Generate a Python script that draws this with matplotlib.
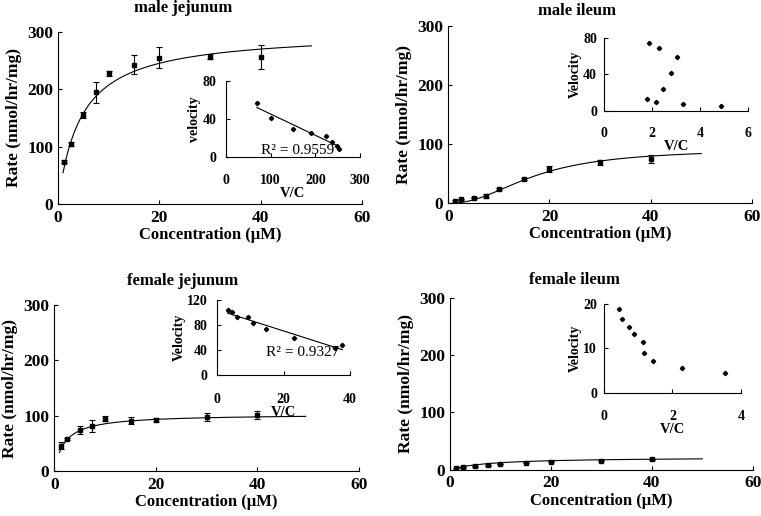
import numpy as np
import matplotlib
matplotlib.use('Agg')
import matplotlib.pyplot as plt

plt.rcParams['font.family'] = ['Liberation Serif', 'DejaVu Serif']
plt.rcParams['font.weight'] = 'bold'

# Concentrations (uM)
conc = [1.25, 2.5, 5, 7.5, 10, 15, 20, 30, 40]

# Rates (nmol/hr/mg) and error bars
mj_rate = [74, 105, 155, 195, 228, 243, 255, 257, 256]
mj_err = [3, 3, 5, 18, 4, 16, 18, 4, 21]
mi_rate = [4, 6.8, 9.6, 12.4, 23.7, 41, 57.5, 69.4, 75]
mi_err = [1, 1, 1, 3, 2, 1, 5, 4, 6]
fj_rate = [46, 58, 74, 81, 95, 91, 92, 98, 102]
fj_err = [6, 2, 7, 11, 4, 6, 4, 7, 7]
fi_rate = [2.9, 4.1, 5.8, 7.6, 9.9, 12.2, 14, 15.7, 18]
fi_err = [0.5, 0.5, 0.5, 0.5, 0.5, 0.5, 0.5, 0.5, 1]

# fitted model parameters (Vmax, Km, hill n)
mj_fit = (300.6, 4.5, 1.0)
mi_fit = (92.0, 17.0, 2.2)
fj_fit = (103.0, 2.03, 1.0)
fi_fit = (22.0, 8.0, 1.0)

# Eadie-Hofstee insets: V/C vs velocity
mj_vc = [69, 100, 151, 190, 224, 238, 249, 254]
mj_vel = [57, 41, 30, 25, 22, 16, 12, 8]
mi_vc = [1.87, 2.30, 3.02, 2.80, 2.44, 1.77, 2.16, 3.30, 4.85]
mi_vel = [74.2, 69.1, 59.3, 41.1, 23.6, 12.7, 10.2, 8.0, 5.5]
fj_vc = [3.1, 4.5, 6.0, 9.3, 10.7, 14.6, 23.0, 35.5, 37.7]
fj_vel = [103, 99.7, 92.3, 92.3, 82.2, 73.1, 58.2, 42.2, 47.5]
fi_vc = [0.45, 0.53, 0.73, 0.87, 1.13, 1.17, 1.42, 2.27, 3.54]
fi_vel = [18.9, 16.5, 14.8, 13.3, 11.4, 8.9, 7.2, 5.7, 4.4]


def hill(x, p):
    vmax, k, n = p
    return vmax * x ** n / (k ** n + x ** n)


def style(ax, xlim, ylim, xticks, yticks, xpad, ypad, size):
    ax.set_xlim(xlim)
    ax.set_ylim(ylim)
    ax.set_xticks(xticks)
    ax.set_yticks(yticks)
    for s in ['top', 'right']:
        ax.spines[s].set_visible(False)
    for s in ['left', 'bottom']:
        ax.spines[s].set_linewidth(0.8)
    ax.tick_params(axis='x', direction='in', length=3, width=0.8, pad=xpad, labelsize=size)
    ax.tick_params(axis='y', direction='in', length=3, width=0.8, pad=ypad, labelsize=size)
    for lab in ax.get_xticklabels() + ax.get_yticklabels():
        lab.set_fontweight('bold')


fig = plt.figure(figsize=(7.61, 5.16), dpi=100)

panels = [
    ([0.0762, 0.6047, 0.3995, 0.3333], mj_rate, mj_err, mj_fit, (1.0, 50)),
    ([0.5890, 0.6060, 0.3990, 0.3436], mi_rate, mi_err, mi_fit, (1.25, 50)),
    ([0.0714, 0.0866, 0.4004, 0.3229], fj_rate, fj_err, fj_fit, (1.0, 49.5)),
    ([0.5913, 0.0897, 0.3978, 0.3328], fi_rate, fi_err, fi_fit, (1.25, 50)),
]
titles = ['male jejunum', 'male ileum', 'female jejunum', 'female ileum']
title_pos = [(183, 8), (577, 11), (183, 281), (574, 280)]

for (rect, rate, err, fit, xr), t, tp in zip(panels, titles, title_pos):
    ax = fig.add_axes(rect)
    xs = np.linspace(xr[0], xr[1], 200)
    ax.plot(xs, hill(xs, fit), color='black', lw=0.8)
    ax.errorbar(conc, rate, yerr=err, fmt='s', color='black', ms=2.5,
                elinewidth=0.8, capsize=2.5, capthick=0.8)
    style(ax, (0, 60), (0, 300), [0, 20, 40, 60], [0, 100, 200, 300], 4, 3.5, 12.5)
    ax.set_xlabel('Concentration (\u00b5M)', fontsize=12, fontweight='bold', labelpad=1)
    ax.set_ylabel('Rate (nmol/hr/mg)', fontsize=12.5, fontweight='bold', labelpad=4)
    fig.text(tp[0] / 761, 1 - tp[1] / 516, t, ha='center', va='center',
             fontsize=12, fontweight='bold')

insets = [
    ([0.2970, 0.6957, 0.1760, 0.1473], mj_vc, mj_vel, (0, 300), (0, 80),
     [0, 100, 200, 300], [0, 40, 80], 'velocity', 'R\u00b2 = 0.9559', (298, 150), 12, 7),
    ([0.7937, 0.7849, 0.1896, 0.1420], mi_vc, mi_vel, (0, 6), (0, 80),
     [0, 2, 4, 6], [0, 40, 80], 'Velocity', None, None, 11.5, 5),
    ([0.2855, 0.2738, 0.1744, 0.1453], fj_vc, fj_vel, (0, 40), (0, 120),
     [0, 20, 40], [0, 40, 80, 120], 'Velocity', 'R\u00b2 = 0.9327', (303, 353), 13, 7),
    ([0.7937, 0.2384, 0.1800, 0.1730], fi_vc, fi_vel, (0, 4), (0, 20),
     [0, 2, 4], [0, 10, 20], 'Velocity', None, None, 12, 5),
]

for rect, vc, vel, xl, yl, xt, yt, ylab, r2, r2pos, xpad, ypad in insets:
    ia = fig.add_axes(rect)
    ia.plot(vc, vel, 'D', color='black', ms=2.2, lw=0)
    if r2 is not None:
        m, b = np.polyfit(vc, vel, 1)
        lx = np.array([min(vc), max(vc)])
        ia.plot(lx, m * lx + b, color='black', lw=0.8)
        fig.text(r2pos[0] / 761, 1 - r2pos[1] / 516, r2, ha='center', va='center',
                 fontsize=11, fontweight='normal')
    style(ia, xl, yl, xt, yt, xpad, ypad, 10)
    ia.patch.set_alpha(0)
    ia.set_xlabel('V/C', fontsize=10.5, fontweight='bold', labelpad=0)
    ia.set_ylabel(ylab, fontsize=10, fontweight='bold', labelpad=1)

fig.savefig('out.png', dpi=100)
